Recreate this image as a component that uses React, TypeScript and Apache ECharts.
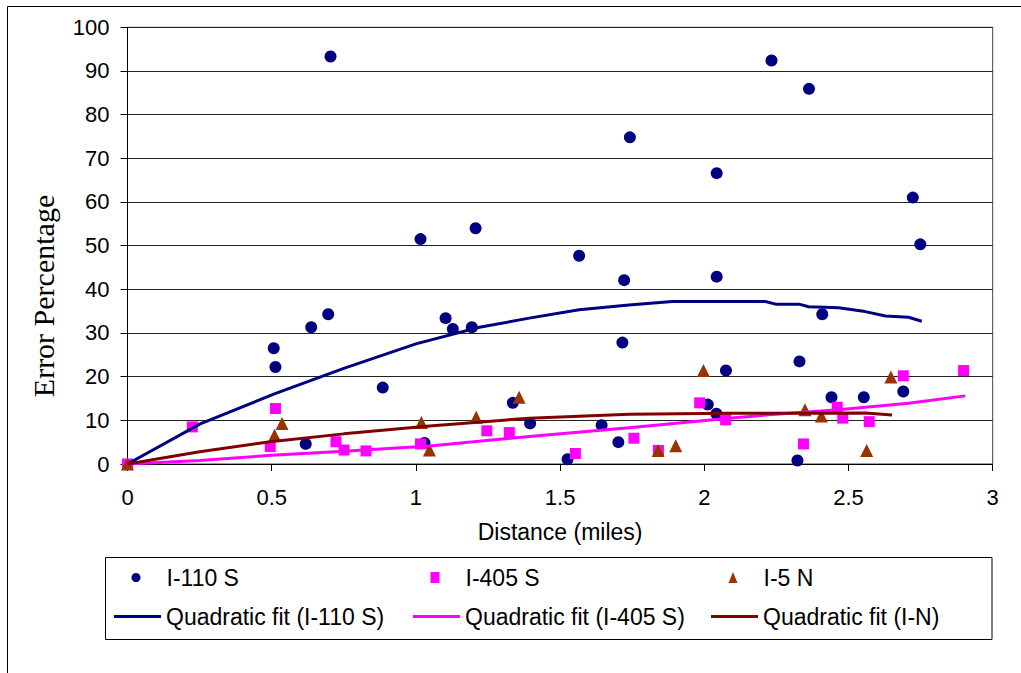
import React, { useEffect, useRef } from "react";
import * as echarts from "echarts";

// ---- Data ----
const i110S: [number, number][] = [
  [0.507, 26.5], [0.513, 22.2], [0.618, 4.6], [0.637, 31.3], [0.696, 34.3],
  [0.704, 93.3], [0.885, 17.5], [1.016, 51.5], [1.03, 4.8], [1.103, 33.4],
  [1.128, 30.9], [1.194, 31.3], [1.207, 54.0], [1.336, 14.0], [1.396, 9.3],
  [1.526, 1.1], [1.566, 47.7], [1.644, 8.9], [1.702, 5.0], [1.716, 27.8],
  [1.722, 42.1], [1.742, 74.8], [2.012, 13.6], [2.042, 11.5], [2.043, 42.9],
  [2.043, 66.6], [2.075, 21.4], [2.233, 92.4], [2.323, 0.8], [2.33, 23.5],
  [2.363, 85.9], [2.409, 34.3], [2.441, 15.3], [2.553, 15.3], [2.69, 16.6],
  [2.723, 61.0], [2.749, 50.3],
];

const i405S: [number, number][] = [
  [0, 0], [0.225, 8.5], [0.495, 4.0], [0.513, 12.7], [0.723, 5.1],
  [0.751, 3.2], [0.827, 3.0], [1.016, 4.6], [1.246, 7.6], [1.324, 7.2],
  [1.553, 2.4], [1.756, 5.9], [1.841, 3.1], [1.984, 14.0], [2.074, 10.1],
  [2.344, 4.6], [2.461, 13.0], [2.48, 10.5], [2.572, 9.7], [2.69, 20.2],
  [2.899, 21.4],
];

const i5N: [number, number][] = [
  [0, 0], [0.51, 6.6], [0.536, 9.3], [1.019, 9.5], [1.047, 3.2],
  [1.209, 10.7], [1.358, 15.3], [1.84, 3.1], [1.901, 4.2], [1.997, 21.4],
  [2.349, 12.4], [2.406, 11.0], [2.563, 3.1], [2.647, 19.9],
];

const fitI110S: [number, number][] = [
  [0, 0], [0.252, 9.2], [0.507, 16.0], [0.75, 21.9], [1.0, 27.5],
  [1.22, 31.3], [1.393, 33.4], [1.566, 35.3], [1.739, 36.4], [1.889, 37.2],
  [2.085, 37.2], [2.212, 37.2], [2.247, 36.6], [2.328, 36.6], [2.362, 36.0],
  [2.466, 35.8], [2.558, 34.9], [2.628, 33.9], [2.708, 33.6], [2.754, 32.7],
];

const fitI405S: [number, number][] = [
  [0, 0], [0.25, 0.8], [0.5, 2.0], [0.75, 2.9], [1.047, 4.1],
  [1.393, 6.3], [1.739, 8.3], [2.085, 10.5], [2.212, 11.2], [2.466, 12.4],
  [2.708, 13.9], [2.905, 15.6],
];

const fitI5N: [number, number][] = [
  [0, 0], [0.25, 2.8], [0.495, 5.1], [0.75, 6.9], [1.047, 8.7],
  [1.393, 10.5], [1.739, 11.4], [2.085, 11.6], [2.558, 11.7], [2.651, 11.2],
];

const xAxisTitle = "Distance (miles)";
const yAxisTitle = "Error Percentage";

const scatterNames = ["I-110 S", "I-405 S", "I-5 N"];
const scatterSymbols = ["circle", "rect", "triangle"];
const scatterSizes = [12, 11, 13];
const scatterColors = ["#000080", "#FF00FF", "#993300"];
const fitNames = ["Quadratic fit (I-110 S)", "Quadratic fit (I-405 S)", "Quadratic fit (I-N)"];
const fitColors = ["#000080", "#FF00FF", "#800000"];

const SANS = '"Liberation Sans", Arial, sans-serif';
const SERIF = '"Liberation Serif", "Times New Roman", serif';

export default function App() {
  const ref = useRef<HTMLDivElement>(null);

  useEffect(() => {
    if (!ref.current) return;
    const chart = echarts.init(ref.current, undefined, { renderer: "svg" });

    const markerLefts = [131.5, 430.5, 728.5];
    const lineLefts = [114, 413, 711];
    const legends: any[] = [];
    scatterNames.forEach((n, i) =>
      legends.push({
        data: [{ name: n, icon: scatterSymbols[i] }],
        left: markerLefts[i],
        top: 566,
        padding: 0,
        itemWidth: 9,
        itemHeight: 11,
        itemGap: 0,
        textStyle: {
          fontSize: 23,
          fontFamily: SANS,
          color: "#000",
          padding: [0, 0, 0, 21],
        },
      })
    );
    fitNames.forEach((n, i) =>
      legends.push({
        data: [{ name: n, icon: "rect" }],
        left: lineLefts[i],
        top: 605,
        padding: 0,
        itemWidth: 47,
        itemHeight: 3,
        itemGap: 0,
        textStyle: { fontSize: 23, fontFamily: SANS, color: "#000" },
      })
    );

    const scatterSeries = [i110S, i405S, i5N].map((d, i) => ({
      name: scatterNames[i],
      type: "scatter",
      data: d,
      symbol: scatterSymbols[i],
      symbolSize: scatterSizes[i],
      itemStyle: { color: scatterColors[i], opacity: 1 },
    }));

    const fitSeries = [fitI110S, fitI405S, fitI5N].map((d, i) => ({
      name: fitNames[i],
      type: "line",
      data: d,
      symbol: "none",
      showSymbol: false,
      lineStyle: { color: fitColors[i], width: 3 },
      itemStyle: { color: fitColors[i] },
    }));

    const option: any = {
      animation: false,
      backgroundColor: "#fff",
      grid: {
        left: 127.5,
        right: 28.3,
        top: 27.3,
        bottom: 209,
        show: true,
        borderColor: "#404040",
        borderWidth: 1,
        backgroundColor: "transparent",
      },
      legend: legends,
      xAxis: {
        type: "value",
        min: 0,
        max: 3,
        interval: 0.5,
        name: xAxisTitle,
        nameLocation: "middle",
        nameGap: 56,
        nameTextStyle: { fontSize: 23, fontFamily: SANS, color: "#000" },
        axisLine: { show: true, lineStyle: { color: "#000", width: 1 } },
        axisTick: { show: true, length: 7, lineStyle: { color: "#000" } },
        axisLabel: { fontSize: 22, fontFamily: SANS, color: "#000", margin: 22 },
        splitLine: { show: false },
      },
      yAxis: {
        type: "value",
        min: 0,
        max: 100,
        interval: 10,
        axisLine: { show: true, lineStyle: { color: "#000", width: 1 } },
        axisTick: { show: true, length: 7, lineStyle: { color: "#000" } },
        axisLabel: { fontSize: 22, fontFamily: SANS, color: "#000", margin: 18 },
        splitLine: { show: true, lineStyle: { color: "#222", width: 1 } },
      },
      graphic: [
        {
          type: "text",
          x: 43,
          y: 296,
          rotation: Math.PI / 2,
          style: {
            text: yAxisTitle,
            font: `30px ${SERIF}`,
            fill: "#000",
            textAlign: "center",
            textVerticalAlign: "middle",
          },
        },
        {
          type: "rect",
          shape: { x: 105.5, y: 557.5, width: 886.5, height: 82 },
          style: { fill: "none", stroke: "#000", lineWidth: 1 },
          z: -1,
        },
        {
          type: "line",
          shape: { x1: 7.5, y1: 6.5, x2: 1021, y2: 6.5 },
          style: { stroke: "#000", lineWidth: 1 },
        },
        {
          type: "line",
          shape: { x1: 7.5, y1: 6.5, x2: 7.5, y2: 673 },
          style: { stroke: "#000", lineWidth: 1 },
        },
      ],
      series: [...scatterSeries, ...fitSeries],
    };

    chart.setOption(option);
    return () => chart.dispose();
  }, []);

  return (
    <div
      ref={ref}
      style={{ position: "fixed", left: 0, top: 0, width: 1021, height: 673 }}
    />
  );
}
